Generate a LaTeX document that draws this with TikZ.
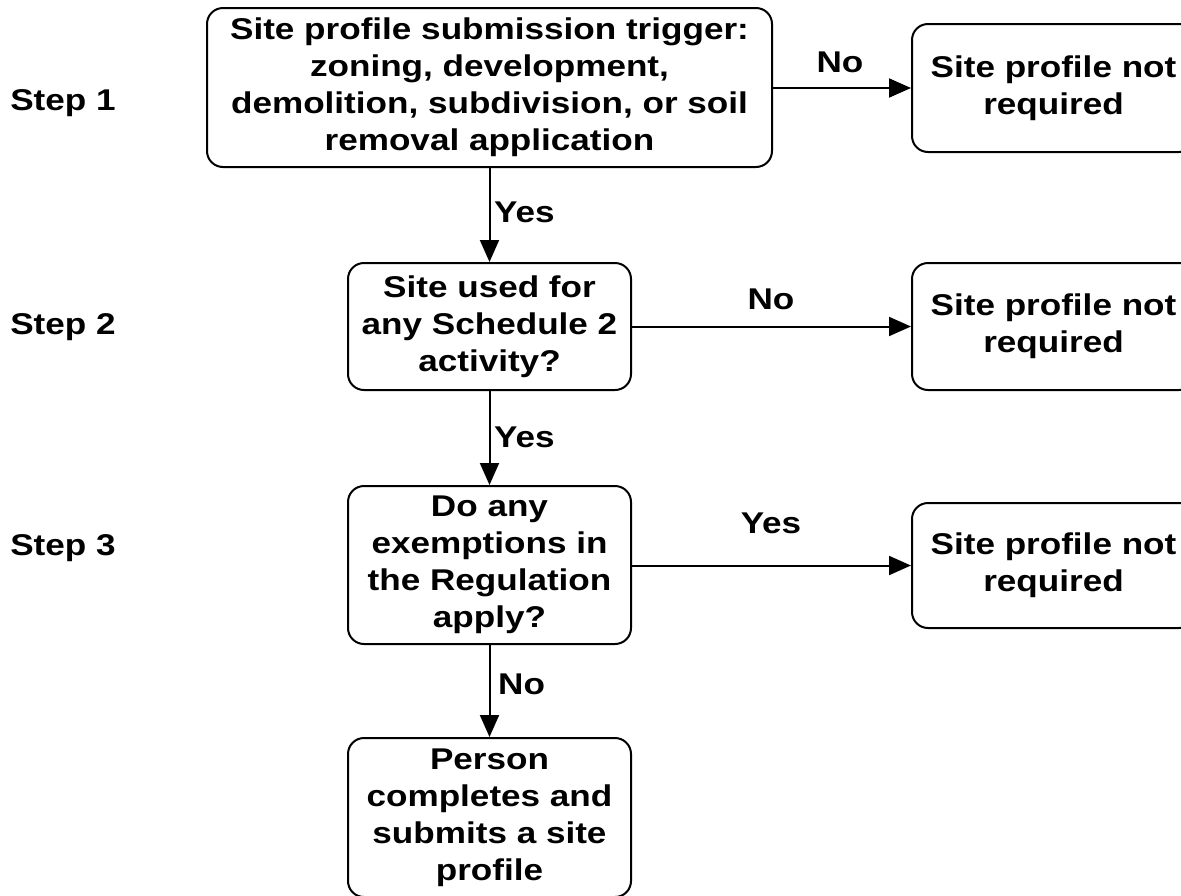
\documentclass[tikz,border=0pt]{standalone}
\usepackage{fontspec}
\setmainfont{Liberation Sans}[FakeStretch=1.17]
\usetikzlibrary{arrows.meta}
\begin{document}
\begin{tikzpicture}[x=1pt,y=-1pt,
  font=\fontsize{30}{37}\selectfont\bfseries,
  box/.style={draw, line width=2pt, rounded corners=16pt, align=center, inner sep=0pt},
  arr/.style={line width=2pt, -{Triangle[length=22pt,width=19pt]}},
  lbl/.style={inner sep=0pt}]
\useasboundingbox (0,0) rectangle (1181,895);
\clip (0,0) rectangle (1181,895);
\node[box, minimum width=565pt, minimum height=159pt] (b1) at (489.5,87.5)
  {Site profile submission trigger:\\zoning, development,\\demolition, subdivision, or soil\\removal application};
\node[box, minimum width=283pt, minimum height=127pt] (b2) at (489.5,326.5)
  {Site used for\\any Schedule 2\\activity?};
\node[box, minimum width=283pt, minimum height=158pt] (b3) at (489.5,565)
  {Do any\\exemptions in\\the Regulation\\apply?};
\node[box, minimum width=283pt, minimum height=159pt] (b4) at (489.5,817.5)
  {Person\\completes and\\submits a site\\profile};
\node[box, minimum width=283pt, minimum height=128pt] (r1) at (1053.5,88)
  {Site profile not\\required};
\node[box, minimum width=283pt, minimum height=127pt] (r2) at (1053.5,326.5)
  {Site profile not\\required};
\node[box, minimum width=283pt, minimum height=125pt] (r3) at (1053.5,565.5)
  {Site profile not\\required};
\node[lbl] (s1) at (63,103) {Step 1};
\node[lbl] (s2) at (63,327) {Step 2};
\node[lbl] (s3) at (63,548) {Step 3};
\draw[arr] (b1.east |- r1.west) -- (r1.west);
\draw[arr] (b2.east |- r2.west) -- (r2.west);
\draw[arr] (b3.east |- r3.west) -- (r3.west);
\draw[arr] (b1.south) -- (b2.north);
\draw[arr] (b2.south) -- (b3.north);
\draw[arr] (b3.south) -- (b4.north);
\node[lbl] (n1) at (840,62) {No};
\node[lbl] (n2) at (771,299) {No};
\node[lbl] (y3) at (771,523) {Yes};
\node[lbl, anchor=west] (y1) at (494,212) {Yes};
\node[lbl, anchor=west] (y2) at (494,437) {Yes};
\node[lbl, anchor=west] (n4) at (498,684) {No};
\end{tikzpicture}
\end{document}
